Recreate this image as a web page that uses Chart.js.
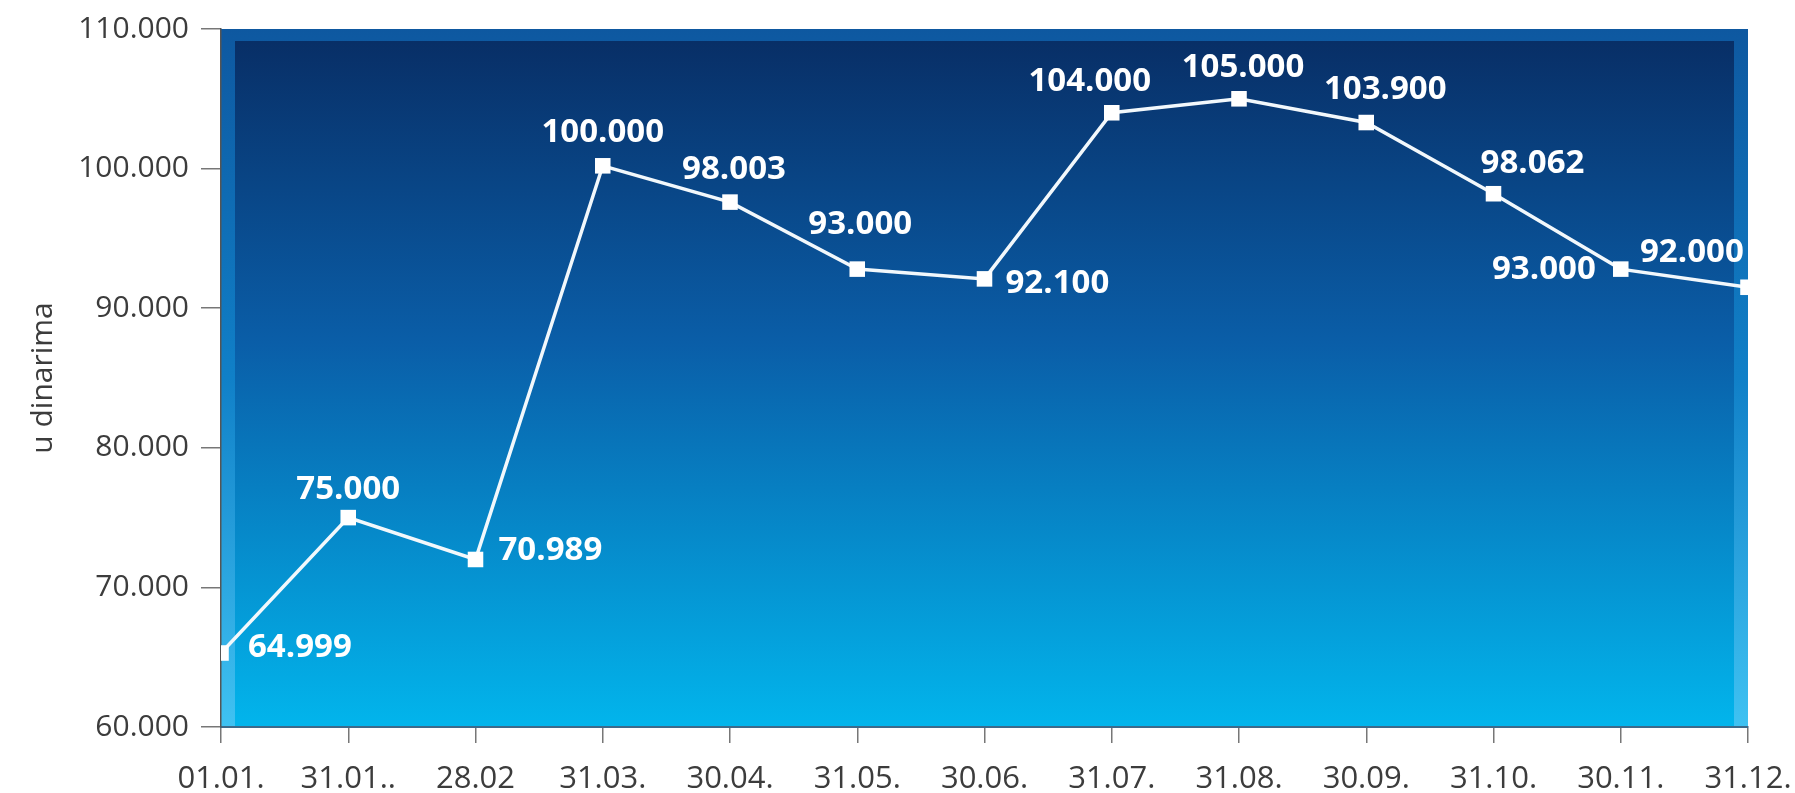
<!DOCTYPE html>
<html>
<head>
<meta charset="utf-8">
<script src="https://cdn.jsdelivr.net/npm/chart.js@4/dist/chart.umd.min.js"></script>
<style>
  html,body{margin:0;padding:0;background:#fff;}
  #wrap{width:1795px;height:793px;position:relative;}
</style>
</head>
<body>
<div id="wrap"><canvas id="c"></canvas></div>
<script>
// values (point positions) and the printed value labels
const dates = ["01.01.","31.01..","28.02","31.03.","30.04.","31.05.","30.06.","31.07.","31.08.","30.09.","31.10.","30.11.","31.12."];
const prices = [65300, 75000, 72000, 100200, 97600, 92800, 92100, 104000, 105000, 103300, 98200, 92800, 91500];
const priceLabels = ["64.999","75.000","70.989","100.000","98.003","93.000","92.100","104.000","105.000","103.900","98.062","93.000","92.000"];
const yMin = 60000, yMax = 110000, yStep = 10000;
const yTitle = "u dinarima";

// where each value label sits relative to its point (styling only)
const labelDx = [27, 0, 23, 0, 4, 3, 21, -22, 4, 19, 39, -25, -108];
const labelDy = [-5, -28, -9, -33, -33, -45, 5, -31, -31, -33, -30, 0, -35];
const labelAlign = ["left","center","left","center","center","center","left","center","center","center","center","right","left"];

const fmt = v => String(v).replace(/\B(?=(\d{3})+(?!\d))/g, ".");

// blue bevelled panel behind the plot
const plotBackground = {
  id: "plotBackground",
  beforeDraw(chart){
    const {ctx, chartArea:a} = chart;
    ctx.save();
    let g = ctx.createLinearGradient(0, a.top, 0, a.bottom);
    g.addColorStop(0, "#0e58a0"); g.addColorStop(0.5, "#1080c8"); g.addColorStop(1, "#3fc2f2");
    ctx.fillStyle = g;
    ctx.fillRect(a.left, a.top, a.right - a.left, a.bottom - a.top);
    g = ctx.createLinearGradient(0, a.top, 0, a.bottom);
    g.addColorStop(0, "#082d64"); g.addColorStop(0.45, "#0a5ea8"); g.addColorStop(1, "#02b5ec");
    ctx.fillStyle = g;
    ctx.fillRect(a.left + 14, a.top + 12, a.right - a.left - 28, a.bottom - a.top - 12);
    ctx.restore();
  }
};

const valueLabels = {
  id: "valueLabels",
  afterDatasetsDraw(chart){
    const {ctx, chartArea:a} = chart;
    const pts = chart.getDatasetMeta(0).data;
    ctx.save();
    ctx.beginPath(); ctx.rect(a.left, a.top, a.right - a.left, a.bottom - a.top); ctx.clip();
    ctx.fillStyle = "#ffffff";
    ctx.font = "700 33px 'Open Sans'";
    ctx.textBaseline = "middle";
    pts.forEach((p, i) => {
      ctx.textAlign = labelAlign[i];
      ctx.fillText(priceLabels[i], p.x + labelDx[i], p.y + labelDy[i]);
    });
    ctx.restore();
  }
};

new Chart(document.getElementById("c"), {
  type: "line",
  data: {
    labels: dates,
    datasets: [{
      data: prices,
      borderColor: "#f2f8fc",
      borderWidth: 3.5,
      pointStyle: "rect",
      pointRadius: 11,
      pointBorderWidth: 0,
      pointBackgroundColor: "#ffffff",
      tension: 0,
      clip: 0
    }]
  },
  options: {
    responsive: true,
    maintainAspectRatio: false,
    animation: false,
    layout: {padding: {top: 29, right: 47, left: 0, bottom: 0}},
    plugins: {legend: {display: false}, tooltip: {enabled: false}},
    scales: {
      x: {
        offset: false,
        afterFit: s => { s.height = 66; s.paddingLeft = 0; s.paddingRight = 0; },
        grid: {drawOnChartArea: false, drawTicks: true, tickLength: 16, color: "#777", lineWidth: 1.5},
        border: {display: true, color: "#3d6a8a", width: 2},
        ticks: {color: "#3c3c3c", font: {family: "Open Sans", size: 31}, padding: 18, maxRotation: 0, autoSkip: false}
      },
      y: {
        min: yMin, max: yMax,
        afterFit: s => { s.width = 221; s.paddingTop = 0; s.paddingBottom = 0; },
        grid: {drawOnChartArea: false, drawTicks: true, tickLength: 20, color: "#777", lineWidth: 1.5},
        border: {display: true, color: "#555", width: 1.5},
        ticks: {stepSize: yStep, color: "#3c3c3c", font: {family: "Open Sans", size: 30}, padding: 12, callback: v => fmt(v)},
        title: {display: true, text: yTitle, color: "#3c3c3c", font: {family: "Open Sans", size: 30}, padding: {top: 25, bottom: 0}}
      }
    }
  },
  plugins: [plotBackground, valueLabels]
});
</script>
</body>
</html>
